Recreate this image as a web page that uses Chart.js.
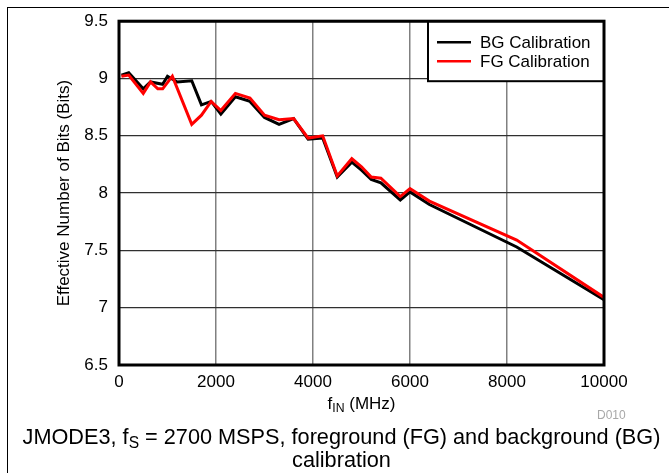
<!DOCTYPE html>
<html>
<head>
<meta charset="utf-8">
<script src="https://cdn.jsdelivr.net/npm/chart.js@4.4.1/dist/chart.umd.min.js"></script>
<style>
  html, body { margin: 0; padding: 0; background: #fff; overflow: hidden; }
  #wrap { position: relative; width: 669px; height: 473px; font-family: "Liberation Sans", Arial, sans-serif; }
  #frame { position: absolute; left: 7px; top: 7px; right: -2px; bottom: -2px; border-left: 1px solid #000; border-top: 1px solid #000; }
  #chart { position: absolute; left: 0; top: 0; }
  .txt { position: absolute; color: #000; white-space: nowrap; }
  sub { font-size: 72%; vertical-align: -0.25em; line-height: 0; }
  #xtitle { left: 119px; width: 485px; top: 394px; text-align: center; font-size: 17px; line-height: 20px; }
  #code { left: 597px; top: 408px; font-size: 12px; color: #a8a8a8; }
  #caption { left: 7px; width: 669px; top: 425px; text-align: center; font-size: 21.7px; line-height: 23px; }
</style>
</head>
<body>
<div id="wrap">
  <div id="frame"></div>
  <canvas id="chart" width="669" height="473"></canvas>
  <div class="txt" id="xtitle">f<sub>IN</sub> (MHz)</div>
  <div class="txt" id="code">D010</div>
  <div class="txt" id="caption">JMODE3, f<sub>S</sub> = 2700 MSPS, foreground (FG) and background (BG)<br>calibration</div>
</div>
<script>
// input frequency (MHz) and ENOB readings
const bgFreq = [50, 200, 500, 650, 900, 1000, 1200, 1500, 1700, 1900, 2100, 2400, 2700, 3000, 3300, 3600, 3900, 4200, 4500, 4800, 5000, 5200, 5400, 5800, 6000, 6400, 8200, 10000];
const bgEnob = [9.03, 9.05, 8.91, 8.97, 8.95, 9.02, 8.97, 8.98, 8.77, 8.80, 8.69, 8.84, 8.80, 8.66, 8.60, 8.65, 8.47, 8.48, 8.14, 8.27, 8.20, 8.12, 8.09, 7.94, 8.01, 7.90, 7.53, 7.07];

const fgFreq = [50, 200, 500, 650, 800, 900, 1100, 1500, 1700, 1900, 2100, 2400, 2700, 3000, 3300, 3600, 3900, 4200, 4500, 4800, 5000, 5200, 5400, 5800, 6000, 6400, 8200, 10000];
const fgEnob = [9.02, 9.03, 8.87, 8.97, 8.91, 8.91, 9.02, 8.60, 8.68, 8.80, 8.72, 8.87, 8.83, 8.68, 8.64, 8.65, 8.48, 8.50, 8.15, 8.30, 8.23, 8.14, 8.13, 7.97, 8.04, 7.93, 7.59, 7.09];

const seriesLabels = ['BG Calibration', 'FG Calibration'];
const seriesColors = ['#000000', '#ff0000'];

const xTicks = [0, 2000, 4000, 6000, 8000, 10000];
const yTicks = [6.5, 7, 7.5, 8, 8.5, 9, 9.5];

const FONT = '"Liberation Sans", Arial, sans-serif';

const toPoints = (xs, ys) => xs.map((x, i) => ({ x, y: ys[i] }));

// thick plot border + boxed legend in the top right corner
const boxPlugin = {
    id: 'box',
    afterDatasetsDraw(chart) {
        const { ctx, chartArea: a } = chart;
        ctx.save();
        // legend
        const lx = 428, ly = a.top, lw = a.right - lx, lh = 60;
        ctx.fillStyle = '#fff';
        ctx.fillRect(lx, ly, lw, lh);
        ctx.lineWidth = 2;
        ctx.strokeStyle = '#000';
        ctx.strokeRect(lx, ly, lw, lh);
        ctx.font = '17px ' + FONT;
        ctx.textBaseline = 'middle';
        chart.data.datasets.forEach((ds, i) => {
            const y = ly + 21 + i * 19;
            ctx.strokeStyle = ds.borderColor;
            ctx.lineWidth = 2.5;
            ctx.beginPath();
            ctx.moveTo(437, y);
            ctx.lineTo(471, y);
            ctx.stroke();
            ctx.fillStyle = '#000';
            ctx.fillText(ds.label, 480, y + 1);
        });
        // plot frame
        ctx.lineWidth = 3;
        ctx.strokeStyle = '#000';
        ctx.strokeRect(a.left, a.top, a.right - a.left, a.bottom - a.top);
        ctx.restore();
    }
};

Chart.defaults.font.family = FONT;
Chart.defaults.color = '#000';

new Chart(document.getElementById('chart'), {
    type: 'line',
    data: {
        datasets: [
            { label: seriesLabels[0], data: toPoints(bgFreq, bgEnob), borderColor: seriesColors[0], borderWidth: 3, pointRadius: 0, tension: 0, order: 1 },
            { label: seriesLabels[1], data: toPoints(fgFreq, fgEnob), borderColor: seriesColors[1], borderWidth: 3, pointRadius: 0, tension: 0, order: 0 }
        ]
    },
    options: {
        responsive: false,
        animation: false,
        events: [],
        layout: { padding: { top: 19, right: 65, left: 0, bottom: 0 } },
        plugins: { legend: { display: false }, tooltip: { enabled: false } },
        scales: {
            x: {
                type: 'linear',
                min: xTicks[0],
                max: xTicks[xTicks.length - 1],
                afterBuildTicks: s => { s.ticks = xTicks.map(v => ({ value: v })); },
                afterFit: s => { s.height = 108; },
                ticks: { font: { size: 17 }, padding: 7, maxRotation: 0, callback: v => String(v) },
                grid: { color: '#808080', lineWidth: 1.5, drawTicks: false },
                border: { display: false }
            },
            y: {
                type: 'linear',
                min: yTicks[0],
                max: yTicks[yTicks.length - 1],
                afterBuildTicks: s => { s.ticks = yTicks.map(v => ({ value: v })); },
                afterFit: s => { s.width = 119; },
                ticks: { font: { size: 17 }, padding: 11, callback: v => String(v) },
                grid: { color: '#303030', lineWidth: 1.3, drawTicks: false },
                border: { display: false },
                title: {
                    display: true,
                    text: 'Effective Number of Bits (Bits)',
                    font: { size: 17 },
                    padding: { top: 54, bottom: 0 }
                }
            }
        }
    },
    plugins: [boxPlugin]
});
</script>
</body>
</html>
